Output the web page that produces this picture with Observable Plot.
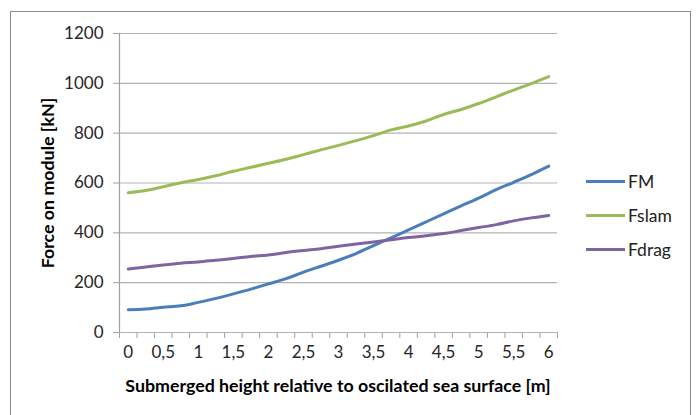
<!DOCTYPE html>
<html>
<head>
<meta charset="utf-8">
<script src="https://cdn.jsdelivr.net/npm/d3@7"></script>
<script src="https://cdn.jsdelivr.net/npm/@observablehq/plot@0.6"></script>
<style>
  html, body { margin: 0; padding: 0; background: #fff; }
  #chart { position: relative; width: 698px; height: 415px; overflow: hidden; background: #fff; font-family: Lato, "Open Sans", sans-serif; }
  #chart svg { position: absolute; left: 0; top: 0; }
  .frame { position: absolute; left: 10px; top: 11px; width: 679px; height: 430px; border: 1.5px solid #8a8a8a; }
  .ytitle { position: absolute; left: 47px; top: 183px; transform: translate(-50%, -50%) rotate(-90deg); white-space: nowrap; font-weight: bold; font-size: 17.8px; color: #000; }
  .xtitle { position: absolute; left: 338px; top: 385px; transform: translate(-50%, -50%); white-space: nowrap; font-weight: bold; font-size: 17.8px; color: #000; }
  .legend { position: absolute; left: 586px; top: 165px; font-size: 17.5px; color: #222; }
  .legend .item { display: flex; align-items: center; height: 33.7px; }
  .legend .swatch { width: 39px; height: 3px; margin-right: 3px; }
</style>
</head>
<body>
<div id="chart">
  <div class="frame"></div>
  <div class="ytitle">Force on module [kN]</div>
  <div class="xtitle">Submerged height relative to oscilated sea surface [m]</div>
  <div class="legend" id="legend"></div>
</div>
<script>
// Submerged height categories [m]
const heights = [0, 0.25, 0.5, 0.75, 1, 1.25, 1.5, 1.75, 2, 2.25, 2.5, 2.75, 3,
                 3.25, 3.5, 3.75, 4, 4.25, 4.5, 4.75, 5, 5.25, 5.5, 5.75, 6];

// Forces on the module [kN]
const FM    = [91, 94, 101, 107, 121, 137, 155, 174, 195, 216, 242, 266, 290,
               317, 349, 380, 412, 444, 476, 508, 539, 573, 603, 634, 668];
const Fslam = [561, 570, 585, 601, 614, 629, 647, 663, 679, 695, 714, 733, 751,
               770, 790, 813, 829, 849, 875, 895, 919, 946, 973, 999, 1027];
const Fdrag = [255, 263, 271, 278, 283, 290, 297, 305, 311, 321, 329, 336, 346,
               355, 363, 372, 381, 388, 397, 409, 421, 433, 448, 460, 470];

const seriesNames = ["FM", "Fslam", "Fdrag"];
const seriesColors = ["#4a7ebb", "#9bbb59", "#8064a2"];
const yTicks = [0, 200, 400, 600, 800, 1000, 1200];
const xLabels = [0, 0.5, 1, 1.5, 2, 2.5, 3, 3.5, 4, 4.5, 5, 5.5, 6];

// Category slots: each height sits in the middle of a slot, tick marks fall between slots
const step = heights[1] - heights[0];
const xDomain = [heights[0] - step / 2, heights[heights.length - 1] + step / 2];
const boundaries = heights.map(h => h - step / 2).concat([xDomain[1]]);

const seriesData = [FM, Fslam, Fdrag];
const rows = [];
seriesNames.forEach((name, s) => {
  heights.forEach((h, i) => rows.push({series: name, height: h, force: seriesData[s][i]}));
});

const fmt = d => String(d).replace(".", ",");

const chart = Plot.plot({
  width: 698,
  height: 415,
  marginLeft: 119,
  marginRight: 141,
  marginTop: 33,
  marginBottom: 83,
  style: {fontFamily: "Lato, 'Open Sans', sans-serif", fontSize: "17px", color: "#262626", background: "transparent"},
  x: {domain: xDomain, ticks: boundaries, tickSize: 6, tickFormat: () => "", label: null},
  y: {domain: [0, 1200], ticks: yTicks, tickSize: 6, tickPadding: 10, tickFormat: d => String(d), label: null},
  color: {domain: seriesNames, range: seriesColors},
  marks: [
    Plot.ruleY(yTicks, {stroke: "#b3b3b3", strokeWidth: 1.2}),
    Plot.ruleX([xDomain[0]], {stroke: "#a0a0a0", strokeWidth: 1.2}),
    Plot.text(xLabels, {x: d => d, frameAnchor: "bottom", dy: 25, text: fmt, fontSize: 17, fill: "#262626"}),
    Plot.line(rows, {x: "height", y: "force", z: "series", stroke: "series", strokeWidth: 3, curve: "monotone-x"})
  ]
});

// grey axis tick marks, no domain lines
chart.querySelectorAll("[aria-label='x-axis'] line, [aria-label='y-axis'] line, [aria-label='x-axis tick'] path, [aria-label='y-axis tick'] path").forEach(el => {
  el.setAttribute("stroke", "#a0a0a0");
});
chart.querySelectorAll("[aria-label='x-axis'] .domain, [aria-label='y-axis'] .domain").forEach(el => el.remove());

document.getElementById("chart").insertBefore(chart, document.querySelector(".ytitle"));

// legend
const legend = document.getElementById("legend");
seriesNames.forEach((name, i) => {
  const item = document.createElement("div");
  item.className = "item";
  const sw = document.createElement("div");
  sw.className = "swatch";
  sw.style.background = seriesColors[i];
  const label = document.createElement("span");
  label.textContent = name;
  item.appendChild(sw);
  item.appendChild(label);
  legend.appendChild(item);
});
</script>
</body>
</html>
